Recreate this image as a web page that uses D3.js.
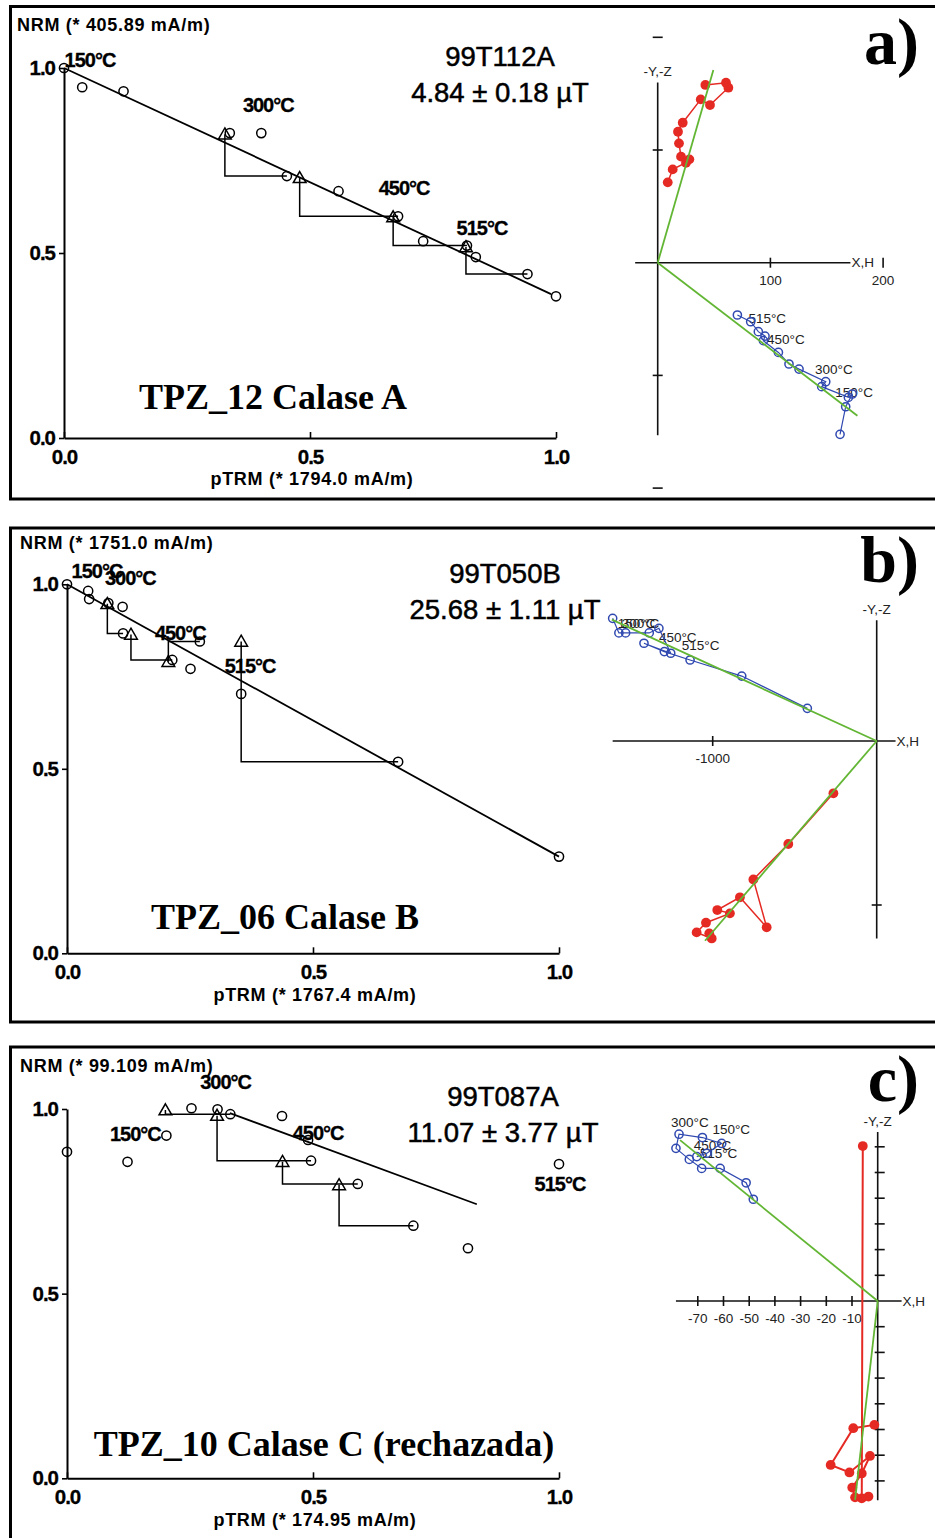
<!DOCTYPE html>
<html>
<head>
<meta charset="utf-8">
<script src="https://cdn.jsdelivr.net/npm/d3@7"></script>
<style>
  body { margin: 0; background: #fff; }
  svg { display: block; }
</style>
</head>
<body>
<svg id="fig" width="935" height="1538"></svg>
<script>
// ---------------- Arai plots: NRM remaining vs pTRM gained (normalised) ----------------
// a) 99T112A
const araiA_ptrm = [0, 0.037, 0.121, 0.337, 0.401, 0.453, 0.558, 0.679, 0.730, 0.819, 0.837, 0.942, 1.0];
const araiA_nrm  = [1.0, 0.948, 0.937, 0.824, 0.824, 0.708, 0.667, 0.599, 0.532, 0.520, 0.489, 0.443, 0.383];
const checkA_ptrm = [0.327, 0.479, 0.669, 0.817];
const checkA_nrm  = [0.821, 0.703, 0.597, 0.516];
const checkA_ref  = [5, 7, 9, 11];          // step each pTRM check is drawn back to
const fitA_ptrm = [0, 0.99];
const fitA_nrm  = [1.0, 0.389];
const tempA_text = ["150°C", "300°C", "450°C", "515°C"];
const tempA_step = [0, 4, 7, 9];

// b) 99T050B
const araiB_ptrm = [0, 0.043, 0.045, 0.084, 0.113, 0.114, 0.214, 0.251, 0.270, 0.354, 0.673, 1.0];
const araiB_nrm  = [1.0, 0.982, 0.960, 0.949, 0.939, 0.867, 0.795, 0.771, 0.845, 0.703, 0.519, 0.262];
const checkB_ptrm = [0.082, 0.130, 0.206, 0.354];
const checkB_nrm  = [0.947, 0.864, 0.790, 0.845];
const checkB_ref  = [5, 6, 8, 10];
const fitB_ptrm = [0, 1.0];
const fitB_nrm  = [1.0, 0.262];
const tempB_text = ["150°C", "300°C", "450°C", "515°C"];
const tempB_step = [0, 3, 6, 9];

// c) 99T087A
const araiC_ptrm = [0, 0.123, 0.202, 0.253, 0.306, 0.332, 0.437, 0.490, 0.496, 0.591, 0.704, 0.815, 1.0];
const araiC_nrm  = [0.884, 0.857, 0.928, 1.002, 0.999, 0.986, 0.981, 0.916, 0.860, 0.797, 0.684, 0.623, 0.851];
const checkC_ptrm = [0.200, 0.305, 0.438, 0.553];
const checkC_nrm  = [0.997, 0.982, 0.857, 0.794];
const checkC_ref  = [5, 8, 9, 10];
const fitC_ptrm = [0.331, 0.833];
const fitC_nrm  = [0.989, 0.742];
const tempC_text = ["150°C", "300°C", "450°C", "515°C"];
const tempC_step = [2, 4, 7, 12];

const araiTicks = [0, 0.5, 1.0];

// ---------------- Zijderveld diagrams ----------------
// red = filled (horizontal plane), blue = open (vertical plane)
const zijA_redX  = [42.3, 60.6, 62.7, 46.4, 38.2, 22.2, 18.0, 18.9, 20.7, 28.1, 25.1, 13.3, 8.9];
const zijA_redY  = [157.7, 159.7, 155.3, 139.9, 144.9, 124.2, 116.2, 105.9, 94.1, 91.7, 88.7, 82.8, 71.3];
const zijA_blueX = [161.8, 166.8, 172.7, 169.2, 145.5, 149.1, 125.4, 116.5, 107.1, 93.8, 95.2, 89.3, 82.5, 70.7];
const zijA_blueY = [-152.3, -127.8, -116.5, -119.5, -110.0, -105.6, -94.4, -89.9, -79.6, -69.2, -65.1, -61.2, -52.4, -46.4];
const zijA_fitRed  = [49.4, 171.0];
const zijA_fitBlue = [177.2, -135.8];
const zijA_xTicks = [100, 200];
const zijA_yTicks = [-200, -100, 100, 200];
const zijA_xLabels = ["100", "200"];
const zijA_tempText = ["150°C", "300°C", "450°C", "515°C"];
const zijA_tempStep = [2, 6, 10, 13];

const zijB_redX  = [-264, -539, -752, -671, -834, -972, -895, -1041, -1098, -1006, -1021];
const zijB_redY  = [-319, -628, -844, -1136, -953, -1031, -1051, -1108, -1167, -1204, -1173];
const zijB_blueX = [-1610, -1572, -1531, -1387, -1328, -1256, -1419, -1295, -1138, -823, -423];
const zijB_blueY = [748, 659, 659, 659, 687, 535, 596, 545, 494, 396, 199];
const zijB_fitRed  = [-1047, -1218];
const zijB_fitBlue = [-1615, 740];
const zijB_xTicks = [-1000];
const zijB_yTicks = [-1000];
const zijB_xLabels = ["-1000"];
const zijB_tempText = ["150°C", "300°C", "450°C", "515°C"];
const zijB_tempStep = [0, 0, 4, 5];

const zijC_redX  = [-5.8, -6.2, -3.6, -8.8, -9.9, -6.2, -3.0, -11.0, -18.3, -9.5, -1.3];
const zijC_redY  = [60.3, -76.8, -76.1, -76.4, -72.6, -67.1, -60.3, -66.7, -63.8, -49.5, -48.2];
const zijC_blueX = [-48.4, -51.2, -61.3, -68.5, -73.3, -78.5, -77.3, -68.2, -60.7, -66.5, -70.4];
const zijC_blueY = [39.6, 46.0, 51.6, 51.6, 55.1, 59.4, 64.9, 63.6, 61.3, 57.5, 56.2];
const zijC_fitRed  = [-8.8, -77.4];
const zijC_fitBlue = [-76.9, 62.6];
const zijC_xTicks = [-70, -60, -50, -40, -30, -20, -10];
const zijC_yTicks = [-70, -60, -50, -40, -30, -20, -10, 10, 20, 30, 40, 50, 60];
const zijC_xLabels = ["-70", "-60", "-50", "-40", "-30", "-20", "-10"];
const zijC_tempText = ["300°C", "150°C", "450°C", "515°C"];
const zijC_tempStep = [6, 7, 8, 8];

// ---------------- drawing ----------------
const SANS = "'Liberation Sans', Arial, sans-serif";
const SERIF = "'Liberation Serif', 'Times New Roman', serif";
const BLUE = "#3049b0", RED = "#e52a24", GREEN = "#62b634";

const svg = d3.select("#fig");
svg.append("rect").attr("width", 935).attr("height", 1538).attr("fill", "#fff");

// panel frames (open on the right, running off the page)
[[6.5, 499], [528, 1022], [1047, 1560]].forEach(([t, b]) => {
  svg.append("path")
    .attr("d", `M950,${t}H10.5V${b}H950`)
    .attr("fill", "none").attr("stroke", "#000").attr("stroke-width", 3);
});

function drawArai(d, L) {
  const g = svg.append("g");
  const x = d3.scaleLinear().domain([0, 1]).range(L.xRange);
  const y = d3.scaleLinear().domain([0, 1]).range(L.yRange);
  const fmt = d3.format(".1f");

  const ya = g.append("g").attr("transform", `translate(${L.xRange[0]},0)`)
    .call(d3.axisLeft(y).tickValues(araiTicks).tickFormat(fmt)
      .tickSizeInner(5).tickSizeOuter(0).tickPadding(4));
  const xa = g.append("g").attr("transform", `translate(0,${L.yRange[0]})`)
    .call(d3.axisBottom(x).tickValues(araiTicks).tickFormat(fmt)
      .tickSizeInner(-6).tickSizeOuter(0).tickPadding(11));
  [ya, xa].forEach(a => {
    a.select(".domain").attr("stroke-width", 2);
    a.selectAll(".tick line").attr("stroke-width", 1.6);
    a.selectAll(".tick text").attr("font-family", SANS).attr("font-weight", "bold")
      .attr("font-size", 20.5).attr("letter-spacing", -1).attr("fill", "#000")
      .attr("stroke", "#000").attr("stroke-width", 0.3);
  });

  // best-fit line
  g.append("path")
    .datum(d.fitP.map((p, i) => [p, d.fitN[i]]))
    .attr("d", d3.line().x(v => x(v[0])).y(v => y(v[1])))
    .attr("fill", "none").attr("stroke", "#000").attr("stroke-width", 1.8);

  // pTRM check connectors
  d.chkP.forEach((cp, i) => {
    const r = d.chkRef[i];
    g.append("path")
      .attr("d", d3.line()([[x(cp), y(d.chkN[i])], [x(cp), y(d.nrm[r])], [x(d.ptrm[r]), y(d.nrm[r])]]))
      .attr("fill", "none").attr("stroke", "#000").attr("stroke-width", 1.5);
  });

  // NRM-pTRM points
  g.selectAll(null).data(d.ptrm).enter().append("circle")
    .attr("cx", (p) => x(p)).attr("cy", (p, i) => y(d.nrm[i])).attr("r", 4.6)
    .attr("fill", "none").attr("stroke", "#000").attr("stroke-width", 1.5);

  // pTRM checks
  g.selectAll(null).data(d.chkP).enter().append("path")
    .attr("d", d3.symbol(d3.symbolTriangle, 70))
    .attr("transform", (p, i) => `translate(${x(p)},${y(d.chkN[i]) + 1})`)
    .attr("fill", "none").attr("stroke", "#000").attr("stroke-width", 1.5);

  // temperature labels
  d.tText.forEach((t, i) => {
    const s = d.tStep[i];
    g.append("text")
      .attr("x", x(d.ptrm[s]) + L.tOff[i][0]).attr("y", y(d.nrm[s]) + L.tOff[i][1])
      .attr("text-anchor", "middle").attr("dominant-baseline", "central")
      .attr("font-family", SANS).attr("font-weight", "bold").attr("font-size", 20)
      .attr("letter-spacing", -1).attr("stroke", "#000").attr("stroke-width", 0.3).text(t);
  });

  // axis titles, sample id and intensity, site name
  g.append("text").attr("x", L.nrmTitle[0]).attr("y", L.nrmTitle[1])
    .attr("font-family", SANS).attr("font-weight", "bold").attr("font-size", 18)
    .attr("letter-spacing", 0.7).text(L.nrmText);
  g.append("text").attr("x", L.ptrmTitle[0]).attr("y", L.ptrmTitle[1]).attr("text-anchor", "middle")
    .attr("font-family", SANS).attr("font-weight", "bold").attr("font-size", 18)
    .attr("letter-spacing", 0.7).text(L.ptrmText);
  g.append("text").attr("x", L.idPos[0]).attr("y", L.idPos[1]).attr("text-anchor", "middle")
    .attr("font-family", SANS).attr("font-size", 27.5).attr("stroke", "#000").attr("stroke-width", 0.5)
    .text(L.idText);
  g.append("text").attr("x", L.idPos[0]).attr("y", L.idPos[1] + 36).attr("text-anchor", "middle")
    .attr("font-family", SANS).attr("font-size", 27.5).attr("stroke", "#000").attr("stroke-width", 0.5)
    .text(L.fieldText);
  g.append("text").attr("x", L.namePos[0]).attr("y", L.namePos[1]).attr("text-anchor", "middle")
    .attr("font-family", SERIF).attr("font-weight", "bold").attr("font-size", 36).text(L.nameText);
}

function drawZij(d, L) {
  const g = svg.append("g");
  const x = d3.scaleLinear().domain([0, 100]).range([L.ox, L.ox + 100 * L.k]);
  const y = d3.scaleLinear().domain([0, 100]).range([L.oy, L.oy - 100 * L.k]);
  const line = (x1, y1, x2, y2, w) => g.append("line")
    .attr("x1", x1).attr("y1", y1).attr("x2", x2).attr("y2", y2)
    .attr("stroke", "#111").attr("stroke-width", w || 1.6);

  // axes through the origin
  line(x(L.xExt[0]), y(0), x(L.xExt[1]), y(0));
  line(x(0), y(L.yExt[1]), x(0), y(L.yExt[0]));
  d.xTicks.forEach((t, i) => {
    line(x(t), y(0) - 5, x(t), y(0) + 5);
    g.append("text").attr("x", x(t)).attr("y", y(0) + 22).attr("text-anchor", "middle")
      .attr("font-family", SANS).attr("font-size", 13.5).attr("fill", "#222").text(d.xLabels[i]);
  });
  d.yTicks.forEach(t => line(x(0) - L.yTick[0], y(t), x(0) + L.yTick[1], y(t)));
  g.append("text").attr("x", x(L.xExt[1]) + 1).attr("y", y(0)).attr("dominant-baseline", "central")
    .attr("font-family", SANS).attr("font-size", 13.5).attr("fill", "#222").text("X,H");
  g.append("text").attr("x", x(0)).attr("y", y(L.yExt[1]) - 6).attr("text-anchor", "middle")
    .attr("font-family", SANS).attr("font-size", 13.5).attr("fill", "#222").text("-Y,-Z");

  const pathOf = (xs, ys) => d3.line()(xs.map((v, i) => [x(v), y(ys[i])]));

  // temperature labels (under the data)
  d.tText.forEach((t, i) => {
    const s = d.tStep[i];
    g.append("text")
      .attr("x", x(d.blueX[s]) + L.tOff[i][0]).attr("y", y(d.blueY[s]) + L.tOff[i][1])
      .attr("dominant-baseline", "central")
      .attr("font-family", SANS).attr("font-size", 13.5).attr("fill", "#222").text(t);
  });

  // red: filled symbols
  g.append("path").attr("d", pathOf(d.redX, d.redY))
    .attr("fill", "none").attr("stroke", RED).attr("stroke-width", L.redW || 1.5);
  g.selectAll(null).data(d.redX).enter().append("circle")
    .attr("cx", v => x(v)).attr("cy", (v, i) => y(d.redY[i])).attr("r", 4.9).attr("fill", RED);

  // blue: open symbols
  g.append("path").attr("d", pathOf(d.blueX, d.blueY))
    .attr("fill", "none").attr("stroke", BLUE).attr("stroke-width", 1.2);
  g.selectAll(null).data(d.blueX).enter().append("circle")
    .attr("cx", v => x(v)).attr("cy", (v, i) => y(d.blueY[i])).attr("r", 4.1)
    .attr("fill", "none").attr("stroke", BLUE).attr("stroke-width", 1.5);

  // principal-component fits from the origin
  [d.fitRed, d.fitBlue].forEach(f => {
    line(x(0), y(0), x(f[0]), y(f[1]), 1.8).attr("stroke", GREEN);
  });
}

// ---- panel a ----
drawArai(
  { ptrm: araiA_ptrm, nrm: araiA_nrm, chkP: checkA_ptrm, chkN: checkA_nrm, chkRef: checkA_ref,
    fitP: fitA_ptrm, fitN: fitA_nrm, tText: tempA_text, tStep: tempA_step },
  { xRange: [64, 556], yRange: [438, 68],
    tOff: [[26, -8], [7, -28], [6, -28], [15, -18]],
    nrmTitle: [17, 31], nrmText: "NRM (* 405.89 mA/m)",
    ptrmTitle: [312, 485], ptrmText: "pTRM (* 1794.0 mA/m)",
    idPos: [500, 66], idText: "99T112A", fieldText: "4.84 ± 0.18 µT",
    namePos: [273, 409], nameText: "TPZ_12 Calase A" });

drawZij(
  { redX: zijA_redX, redY: zijA_redY, blueX: zijA_blueX, blueY: zijA_blueY,
    fitRed: zijA_fitRed, fitBlue: zijA_fitBlue, xTicks: zijA_xTicks, yTicks: zijA_yTicks,
    xLabels: zijA_xLabels, tText: zijA_tempText, tStep: zijA_tempStep },
  { ox: 657.7, oy: 262.7, k: 1.127, xExt: [-20, 171], yExt: [-153, 160], yTick: [5, 5],
    tOff: [[-17, -1], [16, 0], [2, 3], [11, 4]] });

// ---- panel b ----
drawArai(
  { ptrm: araiB_ptrm, nrm: araiB_nrm, chkP: checkB_ptrm, chkN: checkB_nrm, chkRef: checkB_ref,
    fitP: fitB_ptrm, fitN: fitB_nrm, tText: tempB_text, tStep: tempB_step },
  { xRange: [67, 559], yRange: [953.3, 584.3],
    tOff: [[30, -13], [22, -25], [8, -27], [9, -28]],
    nrmTitle: [20, 549], nrmText: "NRM (* 1751.0 mA/m)",
    ptrmTitle: [315, 1001], ptrmText: "pTRM (* 1767.4 mA/m)",
    idPos: [505, 583], idText: "99T050B", fieldText: "25.68 ± 1.11 µT",
    namePos: [285, 929], nameText: "TPZ_06 Calase B" });

drawZij(
  { redX: zijB_redX, redY: zijB_redY, blueX: zijB_blueX, blueY: zijB_blueY,
    fitRed: zijB_fitRed, fitBlue: zijB_fitBlue, xTicks: zijB_xTicks, yTicks: zijB_yTicks,
    xLabels: zijB_xLabels, tText: zijB_tempText, tStep: zijB_tempStep },
  { ox: 876.7, oy: 741, k: 0.164, xExt: [-1610, 115], yExt: [-1204, 737], yTick: [5, 5],
    tOff: [[5, 5], [9, 5], [0, 9], [11, -8]] });

// ---- panel c ----
drawArai(
  { ptrm: araiC_ptrm, nrm: araiC_nrm, chkP: checkC_ptrm, chkN: checkC_nrm, chkRef: checkC_ref,
    fitP: fitC_ptrm, fitN: fitC_nrm, tText: tempC_text, tStep: tempC_step },
  { xRange: [67, 559], yRange: [1478.3, 1109],
    tOff: [[-31, -2], [8, -27], [10, -7], [1, 20]],
    nrmTitle: [20, 1072], nrmText: "NRM (* 99.109 mA/m)",
    ptrmTitle: [315, 1526], ptrmText: "pTRM (* 174.95 mA/m)",
    idPos: [503, 1106], idText: "99T087A", fieldText: "11.07 ± 3.77 µT",
    namePos: [324, 1456], nameText: "TPZ_10 Calase C (rechazada)" });

drawZij(
  { redX: zijC_redX, redY: zijC_redY, blueX: zijC_blueX, blueY: zijC_blueY,
    fitRed: zijC_fitRed, fitBlue: zijC_fitBlue, xTicks: zijC_xTicks, yTicks: zijC_yTicks,
    xLabels: zijC_xLabels, tText: zijC_tempText, tStep: zijC_tempStep },
  { ox: 877.7, oy: 1301, k: 2.57, xExt: [-78.5, 9.3], yExt: [-77.5, 65.8], yTick: [3, 7],
    redW: 2, tOff: [[-8, -12], [10, -8], [-28, 2], [-22, 10]] });

// panel letters
[["a)", 64], ["b)", 582], ["c)", 1101]].forEach(([t, yb]) => {
  svg.append("text").attr("x", 919).attr("y", yb).attr("text-anchor", "end")
    .attr("font-family", SERIF).attr("font-weight", "bold").attr("font-size", 66).text(t);
});
</script>
</body>
</html>
